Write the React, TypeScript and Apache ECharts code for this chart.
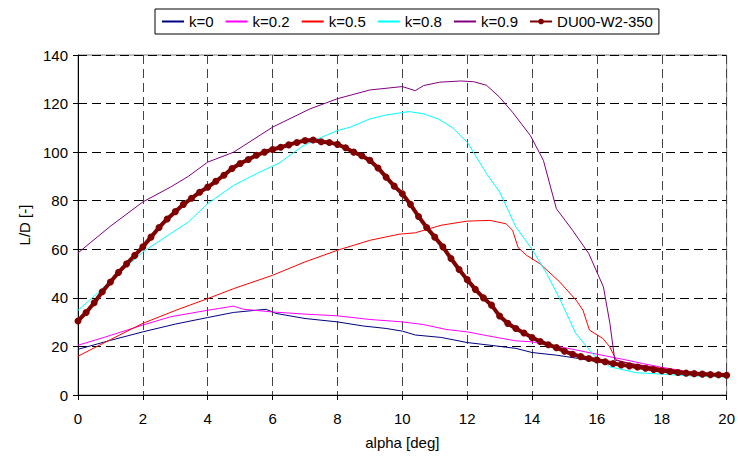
import React, { useEffect, useRef } from "react";
import * as echarts from "echarts";

const xTicks = { min: 0, max: 20, interval: 2 };
const yTicks = { min: 0, max: 140, interval: 20 };

const k0: [number, number][] = [[0,18.8],[1,22.5],[2,26],[3,29.2],[4,31.9],[4.8,34],[5.8,35.3],[6.1,33.6],[7,31.5],[8,30.1],[8.8,28.4],[9.5,27.4],[10,26.3],[10.4,24.7],[11.2,23.7],[12,21.6],[12.7,20.5],[13.5,19.2],[14,17.5],[14.75,16.4],[15.4,15.1],[16,13.7],[16.8,11.9],[18,10.3],[18.85,8.9],[20,7.9]];
const k02: [number, number][] = [[0,20.5],[0.8,23.7],[2,28.8],[2.85,32.2],[4,34.9],[4.8,36.6],[5.1,35.3],[6,34.2],[7,33.3],[8,32.6],[9,31.1],[10,30.1],[10.65,29],[11.35,27],[12,26],[12.7,24.2],[13.5,22.3],[14,21.9],[15,19.5],[16,16.8],[16.8,14.7],[17.4,13],[18,11.4],[18.85,9.5],[20,8.2]];
const k05: [number, number][] = [[0,16],[1,22.8],[2,29.5],[3,34.8],[4,39.7],[4.8,43.8],[6,49.3],[7,54.8],[8,59.6],[9,63.7],[9.9,66.2],[10.4,66.8],[11.2,69.9],[12,71.6],[12.7,71.9],[13.2,70.5],[13.4,67.8],[13.57,60.7],[13.83,57.5],[14.24,54.1],[14.85,46.6],[15.36,39],[15.57,34.9],[15.77,26.7],[16.18,23.3],[16.39,19.9],[16.6,14.4],[17,13],[18,11],[19,9.2],[20,8.1]];
const k08: [number, number][] = [[0,34.9],[0.47,40.4],[1,47],[2,58.9],[2.85,66.4],[3.4,71.2],[4,78.8],[4.8,86.3],[5.5,91.1],[6.2,95.5],[6.95,102.7],[7.4,105.5],[8,108.9],[8.4,110.3],[9,113.7],[9.5,115.3],[10.2,116.7],[10.65,115.8],[11.15,113.4],[11.55,110],[12,104.1],[12.6,91.1],[13,83.6],[13.5,69.2],[14,60],[14.45,50],[14.85,39.7],[15.35,25.3],[15.9,16.4],[16.4,11.6],[17.2,9.2],[18,8.6],[18.85,7.9],[20,7.3]];
const k09: [number, number][] = [[0,58.5],[1,69.5],[2,79.5],[2.85,85.6],[3.4,90],[4,95.9],[4.8,100],[6,110.3],[7.15,117.8],[8,122],[9,125.6],[10,127],[10.4,125.3],[10.65,127.4],[11.15,128.8],[11.8,129.3],[12.2,129],[12.6,127.5],[13,122.6],[13.4,116.4],[13.95,106.8],[14.35,96.6],[14.75,76.7],[15.25,67.8],[15.75,58.2],[16.2,44.5],[16.4,29.5],[16.55,14.4],[17,13],[18,10.8],[19,9.2],[20,8.2]];

const duAlpha: number[] = [0,0.25,0.5,0.75,1,1.25,1.5,1.75,2,2.25,2.5,2.75,3,3.25,3.5,3.75,4,4.25,4.5,4.75,5,5.25,5.5,5.75,6,6.25,6.5,6.75,7,7.25,7.5,7.75,8,8.25,8.5,8.75,9,9.25,9.5,9.75,10,10.25,10.5,10.75,11,11.25,11.5,11.75,12,12.25,12.5,12.75,13,13.25,13.5,13.75,14,14.25,14.5,14.75,15,15.25,15.5,15.75,16,16.25,16.5,16.75,17,17.25,17.5,17.75,18,18.25,18.5,18.75,19,19.25,19.5,19.75,20];
const duLD: number[] = [30.5,34,38,42.5,46.5,50.5,54,57.5,61,65,69,72.5,75.5,78.5,81,83.5,85.6,88,90.5,93.3,95.3,97,98.7,100,101.1,102,103,104,104.8,105,104.3,104,103.2,101.8,100,98.5,96.6,93.5,89.7,86,82.9,78.5,73.5,69,65,61,56.2,51.7,47.5,43.5,40,37,32.5,29.5,27.4,25.5,23.7,22,20.7,19.5,18,16.8,15.8,15,14.4,13.7,13,12.4,12,11.5,11,10.5,10,9.7,9.3,9,8.8,8.6,8.4,8.3,8.1];

const seriesNames = ["k=0", "k=0.2", "k=0.5", "k=0.8", "k=0.9", "DU00-W2-350"];
const seriesColors = ["#000080", "#ff00ff", "#ff0000", "#00ffff", "#800080", "#800000"];

const FONT = "'Liberation Sans', Arial, sans-serif";

export default function App() {
  const ref = useRef<HTMLDivElement>(null);
  useEffect(() => {
    if (!ref.current) return;
    const chart = echarts.init(ref.current, null, { renderer: "svg" });
    const lines = [k0, k02, k05, k08, k09];
    const series: any[] = lines.map((d, i) => ({
      name: seriesNames[i],
      type: "line",
      data: d,
      symbol: "none",
      lineStyle: { color: seriesColors[i], width: 1 },
      itemStyle: { color: seriesColors[i] },
      z: 2,
    }));
    series.push({
      name: seriesNames[5],
      type: "line",
      data: duAlpha.map((a, i) => [a, duLD[i]]),
      symbol: "circle",
      symbolSize: 7,
      showAllSymbol: true,
      lineStyle: { color: seriesColors[5], width: 4 },
      itemStyle: { color: seriesColors[5] },
      z: 3,
    });
    chart.setOption({
      animation: false,
      backgroundColor: "#fff",
      textStyle: { fontFamily: FONT },
      legend: {
        left: 155,
        top: 9,
        padding: [5, 6],
        itemGap: 11,
        itemWidth: 22,
        itemHeight: 7,
        borderColor: "#000",
        borderWidth: 1,
        textStyle: { fontSize: 15, color: "#000", fontFamily: FONT },
        data: seriesNames.map((n, i) =>
          i < 5 ? { name: n, itemStyle: { opacity: 0 } } : { name: n }
        ),
      },
      grid: {
        left: 78,
        right: 9,
        top: 55,
        bottom: 64,
        show: true,
        borderColor: "#808080",
        borderWidth: 1,
      },
      xAxis: {
        type: "value",
        min: xTicks.min,
        max: xTicks.max,
        interval: xTicks.interval,
        name: "alpha [deg]",
        nameLocation: "middle",
        nameGap: 40,
        nameTextStyle: { fontSize: 15, color: "#000", fontFamily: FONT },
        axisLine: { lineStyle: { color: "#000", width: 1 } },
        axisTick: { show: true, length: 5, lineStyle: { color: "#000" } },
        axisLabel: { fontSize: 15, color: "#000", margin: 16, fontFamily: FONT },
        splitLine: { show: true, lineStyle: { color: "#444", type: [9, 5], width: 1 } },
      },
      yAxis: {
        type: "value",
        min: yTicks.min,
        max: yTicks.max,
        interval: yTicks.interval,
        name: "L/D [-]",
        nameLocation: "middle",
        nameGap: 46,
        nameRotate: 90,
        nameTextStyle: { fontSize: 15, color: "#000", fontFamily: FONT },
        axisLine: { show: true, lineStyle: { color: "#000", width: 1 } },
        axisTick: { show: true, length: 5, lineStyle: { color: "#000" } },
        axisLabel: { fontSize: 15, color: "#000", margin: 10, fontFamily: FONT },
        splitLine: { show: true, lineStyle: { color: "#000", type: [9, 5], width: 1 } },
      },
      series,
    });
    return () => chart.dispose();
  }, []);
  return <div ref={ref} style={{ width: 738, height: 459, position: "absolute", left: 0, top: 0 }} />;
}
